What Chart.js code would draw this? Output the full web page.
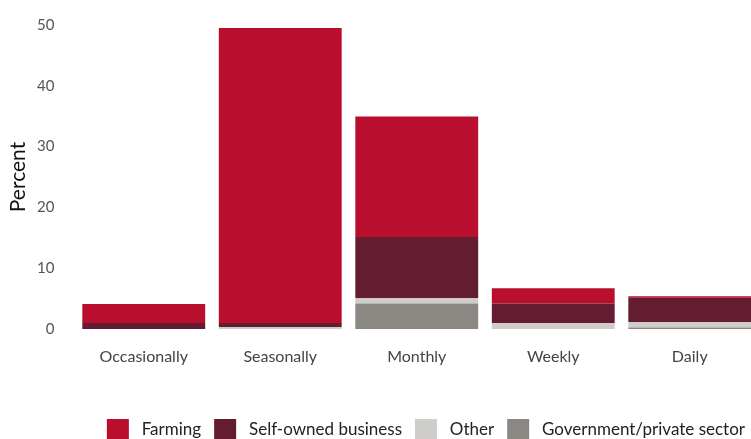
<!DOCTYPE html>
<html>
<head>
<meta charset="utf-8">
<script src="https://cdn.jsdelivr.net/npm/chart.js@4/dist/chart.umd.min.js"></script>
<style>
  html, body { margin: 0; padding: 0; background: #fff; overflow: hidden; }
  #wrap { width: 758px; height: 456px; margin-top: -5px; }
</style>
</head>
<body>
<div id="wrap"><canvas id="freqChart" width="758" height="456"></canvas></div>
<script>
// frequency of income by source, stacked percent
const categories = ['Occasionally', 'Seasonally', 'Monthly', 'Weekly', 'Daily'];
const govPrivate = [0, 0, 4.2, 0, 0.25];
const other = [0, 0.3, 0.85, 1.0, 0.9];
const selfOwned = [1.0, 0.7, 10.1, 3.2, 4.0];
const farming = [3.1, 48.5, 19.8, 2.5, 0.25];
const yTicks = [0, 10, 20, 30, 40, 50];

const fontFamily = 'Lato, "Open Sans", sans-serif';

function series(label, data, color) {
  return {
    label: label,
    data: data,
    backgroundColor: color,
    borderWidth: 0,
    barPercentage: 0.9,
    categoryPercentage: 1.0
  };
}

const ctx = document.getElementById('freqChart').getContext('2d');
new Chart(ctx, {
  type: 'bar',
  data: {
    labels: categories,
    datasets: [
      series('Government/private sector', govPrivate, '#8b8884'),
      series('Other', other, '#cfcdca'),
      series('Self-owned business', selfOwned, '#641c30'),
      series('Farming', farming, '#b90e2e')
    ]
  },
  options: {
    responsive: false,
    animation: false,
    layout: { padding: { top: 12, left: 0, right: 0, bottom: 0 } },
    plugins: {
      tooltip: { enabled: false },
      legend: {
        position: 'bottom',
        align: 'end',
        labels: {
          boxWidth: 22,
          boxHeight: 22,
          padding: 13,
          color: '#222',
          font: { family: fontFamily, size: 17 },
          // a bit more room between swatch and text
          generateLabels: chart => Chart.defaults.plugins.legend.labels.generateLabels(chart)
            .map(item => Object.assign(item, { text: ' ' + item.text })),
          // farming first, government last
          sort: (a, b) => b.datasetIndex - a.datasetIndex
        }
      }
    },
    scales: {
      x: {
        stacked: true,
        grid: { display: false, drawTicks: false },
        border: { display: false },
        ticks: {
          color: '#444',
          padding: 18,
          font: { family: fontFamily, size: 16 }
        },
        afterFit: scale => { scale.height = 77; }
      },
      y: {
        stacked: true,
        min: 0,
        max: 50,
        grid: { display: false, drawTicks: false },
        border: { display: false },
        afterBuildTicks: scale => {
          scale.ticks = yTicks.map(v => ({ value: v }));
        },
        ticks: {
          color: '#555',
          padding: 21,
          font: { family: fontFamily, size: 15 }
        },
        title: {
          display: true,
          text: 'Percent',
          color: '#111',
          padding: { top: 6, bottom: 0 },
          font: { family: fontFamily, size: 21 }
        },
        afterFit: scale => { scale.width = 75.5; }
      }
    }
  }
});
</script>
</body>
</html>
